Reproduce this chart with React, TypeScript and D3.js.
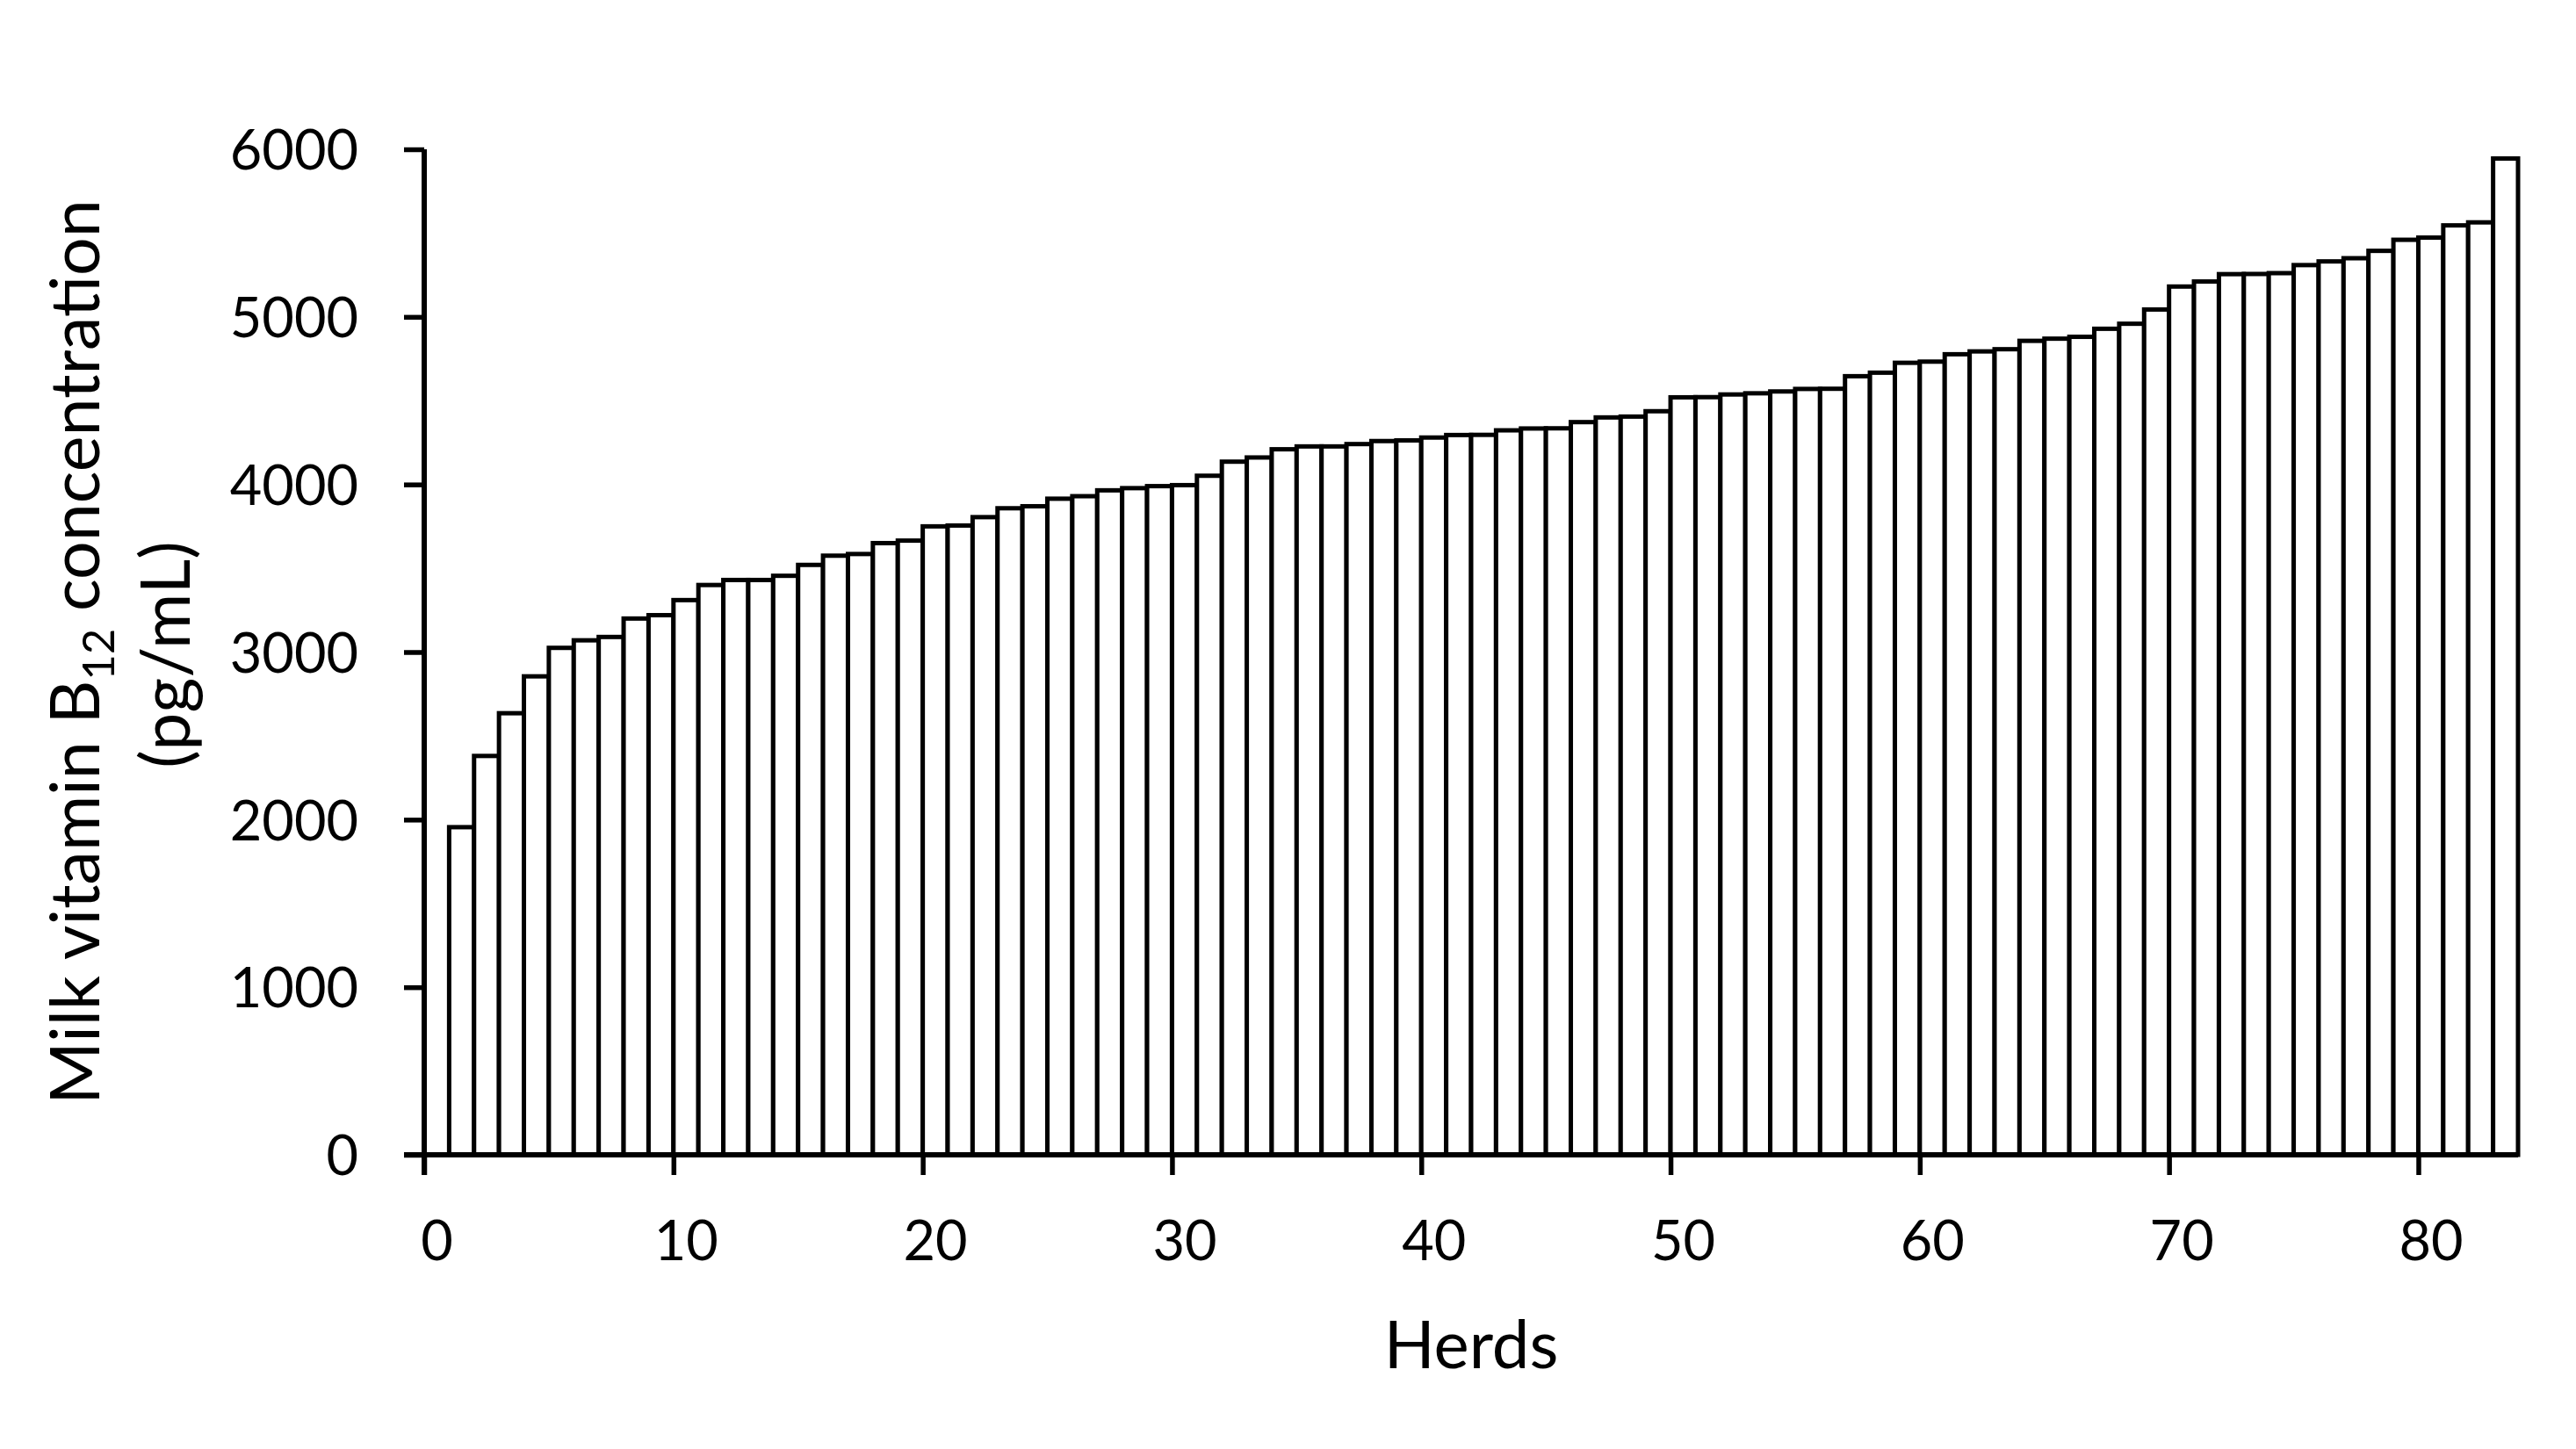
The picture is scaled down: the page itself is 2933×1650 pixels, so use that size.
import { useRef, useEffect } from 'react';
import * as d3 from 'd3';

// milk B12 per herd, sorted ascending (pg/mL)
const b12 = [
  1955, 2380, 2635, 2855, 3025, 3070, 3090, 3200, 3220, 3310,
  3400, 3430, 3430, 3455, 3520, 3575, 3585, 3650, 3665, 3750,
  3755, 3805, 3858, 3870, 3915, 3930, 3965, 3978, 3990, 3996,
  4052, 4136, 4161, 4210, 4227, 4227, 4241, 4259, 4263, 4280,
  4295, 4296, 4323, 4334, 4335, 4372, 4400, 4405, 4437, 4520,
  4521, 4537, 4544, 4555, 4570, 4571, 4646, 4667, 4726, 4733,
  4777, 4794, 4807, 4857, 4870, 4881, 4929, 4959, 5044, 5181,
  5211, 5255, 5256, 5261, 5309, 5331, 5350, 5394, 5460, 5473,
  5546, 5564, 5945,
];
const xTicks = [0, 10, 20, 30, 40, 50, 60, 70, 80];
const yTicks = [0, 1000, 2000, 3000, 4000, 5000, 6000];

const FONT = 'Lato, "Open Sans", sans-serif';

export default function App() {
  const ref = useRef<SVGSVGElement>(null);

  useEffect(() => {
    const svg = d3.select(ref.current);
    svg.selectAll('*').remove();

    const W = 2933;
    const H = 1650;
    const m = { top: 170, right: 66, bottom: 335, left: 483 };

    const x = d3.scaleLinear().domain([0, 84]).range([m.left, W - m.right]);
    const y = d3.scaleLinear().domain([0, 6000]).range([H - m.bottom, m.top]);

    svg.append('rect').attr('width', W).attr('height', H).attr('fill', '#fff');

    // bars: herd i sits in [i, i+1]
    svg
      .append('g')
      .selectAll('rect')
      .data(b12)
      .enter()
      .append('rect')
      .attr('x', (_, i) => x(i + 1))
      .attr('width', x(2) - x(1))
      .attr('y', (d) => y(d))
      .attr('height', (d) => y(0) - y(d))
      .attr('fill', '#fff')
      .attr('stroke', '#000')
      .attr('stroke-width', 5);

    const gy = svg.append('g').attr('transform', `translate(${x(0)},0)`);
    gy.call(d3.axisLeft(y).tickValues(yTicks).tickSize(23).tickPadding(52).tickFormat(d3.format('d')))
      .call((s) => s.select('.domain').remove())
      .call((s) => s.selectAll('line').attr('stroke', '#000').attr('stroke-width', 5.5))
      .call((s) =>
        s.selectAll('text').attr('fill', '#000').style('font-family', FONT).style('font-size', '63px').attr('dy', '0.36em')
      );
    gy.append('line').attr('y1', y(6000)).attr('y2', y(0) + 23).attr('stroke', '#000').attr('stroke-width', 6);

    const gx = svg.append('g').attr('transform', `translate(0,${y(0)})`);
    gx.call(d3.axisBottom(x).tickValues(xTicks).tickSize(23).tickPadding(52).tickFormat(d3.format('d')))
      .call((s) => s.select('.domain').remove())
      .call((s) => s.selectAll('line').attr('stroke', '#000').attr('stroke-width', 5.5))
      .call((s) =>
        s.selectAll('text').attr('fill', '#000').attr('dx', 14).style('font-family', FONT).style('font-size', '63px')
      );
    gx.append('line').attr('x1', x(0) - 23).attr('x2', x(84)).attr('stroke', '#000').attr('stroke-width', 6);

    svg
      .append('text')
      .attr('x', (x(0) + x(84)) / 2)
      .attr('y', 1558)
      .attr('text-anchor', 'middle')
      .style('font-family', FONT)
      .style('font-size', '76px')
      .text('Herds');

    const cy = (y(0) + y(6000)) / 2;
    const t1 = svg
      .append('text')
      .attr('transform', `translate(113,${cy}) rotate(-90)`)
      .attr('text-anchor', 'middle')
      .style('font-family', FONT)
      .style('font-size', '77px');
    t1.append('tspan').text('Milk vitamin B');
    t1.append('tspan').attr('dy', 17).style('font-size', '51px').text('12');
    t1.append('tspan').attr('dy', -17).text(' concentration');

    svg
      .append('text')
      .attr('transform', `translate(216,${cy + 3}) rotate(-90)`)
      .attr('text-anchor', 'middle')
      .style('font-family', FONT)
      .style('font-size', '77px')
      .text('(pg/mL)');
  }, []);

  return (
    <div style={{ position: 'absolute', left: 0, top: 0 }}>
      <svg ref={ref} width={2933} height={1650} style={{ display: 'block' }} />
    </div>
  );
}
